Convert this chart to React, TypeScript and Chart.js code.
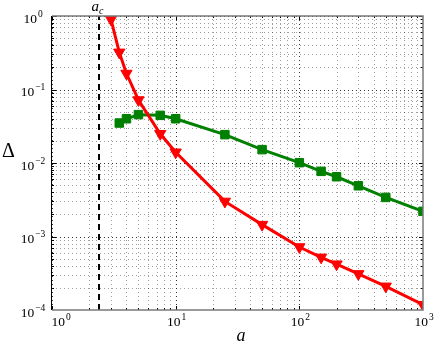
import React, { useEffect, useRef } from "react";
import { Chart, registerables } from "chart.js";

Chart.register(...registerables);

const redX = [3, 3.5, 4, 5, 7.5, 10, 25, 50, 100, 150, 200, 300, 500, 1000];
const redY = [0.9, 0.32, 0.165, 0.072, 0.025, 0.014, 0.003, 0.00145, 0.00072, 0.00052, 0.00042, 0.00031, 0.00021, 0.000118];
const greenX = [3.5, 4, 5, 7.5, 10, 25, 50, 100, 150, 200, 300, 500, 1000];
const greenY = [0.035, 0.04, 0.0455, 0.0445, 0.04, 0.0243, 0.0152, 0.0101, 0.0077, 0.0065, 0.0049, 0.0034, 0.0022];
const acValue = 2.4;
const xDecades = [0, 1, 2, 3];
const yDecades = [-4, -3, -2, -1, 0];

const SERIF = '"Liberation Serif", "DejaVu Serif", serif';

function drawPow(ctx: CanvasRenderingContext2D, exp: number, cx: number, baseline: number) {
  const base = "10";
  const sup = exp < 0 ? "\u2212" + Math.abs(exp) : String(exp);
  ctx.font = `13.5px ${SERIF}`;
  const wb = ctx.measureText(base).width;
  ctx.font = `9.5px ${SERIF}`;
  const ws = ctx.measureText(sup).width;
  const total = wb + ws + 1;
  const start = cx - total / 2;
  ctx.fillStyle = "#000";
  ctx.textAlign = "left";
  ctx.textBaseline = "alphabetic";
  ctx.font = `13.5px ${SERIF}`;
  ctx.fillText(base, start, baseline);
  ctx.font = `9.5px ${SERIF}`;
  ctx.fillText(sup, start + wb + 1, baseline - 6);
}

const decor = {
  id: "decor",
  beforeDatasetsDraw(chart: any) {
    const { ctx, chartArea: a, scales } = chart;
    const xs = scales.x, ys = scales.y;
    ctx.save();
    ctx.beginPath();
    ctx.rect(a.left, a.top, a.right - a.left, a.bottom - a.top);
    ctx.clip();
    ctx.lineWidth = 1;
    ctx.setLineDash([1, 3]);
    for (const d of xDecades) {
      for (let m = 1; m <= 9; m++) {
        const v = m * Math.pow(10, d);
        if (v > 1000) break;
        const px = Math.round(xs.getPixelForValue(v)) + 0.5;
        ctx.strokeStyle = m === 1 ? "rgba(0,0,0,0.8)" : "rgba(0,0,0,0.38)";
        ctx.beginPath();
        ctx.moveTo(px, a.top);
        ctx.lineTo(px, a.bottom);
        ctx.stroke();
      }
    }
    for (const d of yDecades) {
      for (let m = 1; m <= 9; m++) {
        const v = m * Math.pow(10, d);
        if (v > 1) break;
        const py = Math.round(ys.getPixelForValue(v)) + 0.5;
        ctx.strokeStyle = m === 1 ? "rgba(0,0,0,0.8)" : "rgba(0,0,0,0.38)";
        ctx.beginPath();
        ctx.moveTo(a.left, py);
        ctx.lineTo(a.right, py);
        ctx.stroke();
      }
    }
    ctx.setLineDash([]);
    ctx.strokeStyle = "#000";
    for (const d of xDecades) {
      for (let m = 1; m <= 9; m++) {
        const v = m * Math.pow(10, d);
        if (v > 1000) break;
        const px = Math.round(xs.getPixelForValue(v)) + 0.5;
        const len = m === 1 ? 4 : 2;
        ctx.beginPath();
        ctx.moveTo(px, a.bottom);
        ctx.lineTo(px, a.bottom - len);
        ctx.moveTo(px, a.top);
        ctx.lineTo(px, a.top + len);
        ctx.stroke();
      }
    }
    for (const d of yDecades) {
      for (let m = 1; m <= 9; m++) {
        const v = m * Math.pow(10, d);
        if (v > 1) break;
        const py = Math.round(ys.getPixelForValue(v)) + 0.5;
        const len = m === 1 ? 4 : 2;
        ctx.beginPath();
        ctx.moveTo(a.left, py);
        ctx.lineTo(a.left + len, py);
        ctx.moveTo(a.right, py);
        ctx.lineTo(a.right - len, py);
        ctx.stroke();
      }
    }
    ctx.restore();
  },
  afterDraw(chart: any) {
    const { ctx, chartArea: a, scales } = chart;
    const xs = scales.x, ys = scales.y;
    ctx.save();
    ctx.lineWidth = 1.5;
    ctx.strokeStyle = "#7a7a7a";
    ctx.beginPath();
    ctx.moveTo(a.left, a.top);
    ctx.lineTo(a.right, a.top);
    ctx.lineTo(a.right, a.bottom);
    ctx.lineTo(a.left, a.bottom);
    ctx.stroke();
    ctx.lineWidth = 1;
    ctx.strokeStyle = "#000";
    ctx.beginPath();
    ctx.moveTo(a.left - 0.5, a.top);
    ctx.lineTo(a.left - 0.5, a.bottom);
    ctx.stroke();
    for (const d of yDecades) {
      const py = ys.getPixelForValue(Math.pow(10, d));
      drawPow(ctx, d, 33, py + 6.5);
    }
    for (const d of xDecades) {
      const px = xs.getPixelForValue(Math.pow(10, d));
      drawPow(ctx, d, d === 0 ? px + 9 : px + 1, 325.5);
    }
    ctx.fillStyle = "#000";
    ctx.textBaseline = "alphabetic";
    ctx.textAlign = "center";
    ctx.font = `italic 18px ${SERIF}`;
    ctx.fillText("a", 241, 340.5);
    ctx.textAlign = "left";
    ctx.font = `20px ${SERIF}`;
    ctx.fillText("\u0394", 2, 157);
    const acx = xs.getPixelForValue(acValue);
    ctx.font = `italic 15px ${SERIF}`;
    ctx.fillText("a", acx - 7.5, 10.5);
    ctx.font = `italic 10px ${SERIF}`;
    ctx.fillText("c", acx + 0, 13.5);
    ctx.restore();
  },
};

export default function App() {
  const ref = useRef<HTMLCanvasElement | null>(null);
  useEffect(() => {
    document.body.style.margin = "0";
    const canvas = ref.current!;
    const chart = new Chart(canvas, {
      type: "line",
      data: {
        datasets: [
          {
            label: "red",
            data: redX.map((x, i) => ({ x, y: redY[i] })),
            borderColor: "#ff0000",
            backgroundColor: "#ff0000",
            borderWidth: 3,
            pointStyle: "triangle",
            pointRotation: 180,
            pointRadius: 6.5,
            pointBorderWidth: 1,
            pointBorderColor: "#ff0000",
            pointBackgroundColor: "#ff0000",
          },
          {
            label: "green",
            data: greenX.map((x, i) => ({ x, y: greenY[i] })),
            borderColor: "#008000",
            backgroundColor: "#008000",
            borderWidth: 3,
            pointStyle: "rect",
            pointRadius: 6,
            pointBorderWidth: 1,
            pointBorderColor: "#008000",
            pointBackgroundColor: "#008000",
          },
          {
            label: "ac",
            data: [
              { x: acValue, y: 1e-4 },
              { x: acValue, y: 1 },
            ],
            borderColor: "#000",
            borderWidth: 2,
            borderDash: [6, 4],
            pointRadius: 0,
          },
        ],
      },
      options: {
        responsive: false,
        animation: false,
        devicePixelRatio: 1,
        layout: { padding: { left: 52, top: 16, right: 13, bottom: 32 } },
        plugins: { legend: { display: false }, tooltip: { enabled: false } },
        scales: {
          x: { type: "logarithmic", min: 1, max: 1000, display: false },
          y: { type: "logarithmic", min: 1e-4, max: 1, display: false },
        },
      },
      plugins: [decor],
    });
    return () => chart.destroy();
  }, []);
  return (
    <div style={{ position: "absolute", left: 0, top: 0, width: 436, height: 342, background: "#fff" }}>
      <canvas ref={ref} width={436} height={342} />
    </div>
  );
}
